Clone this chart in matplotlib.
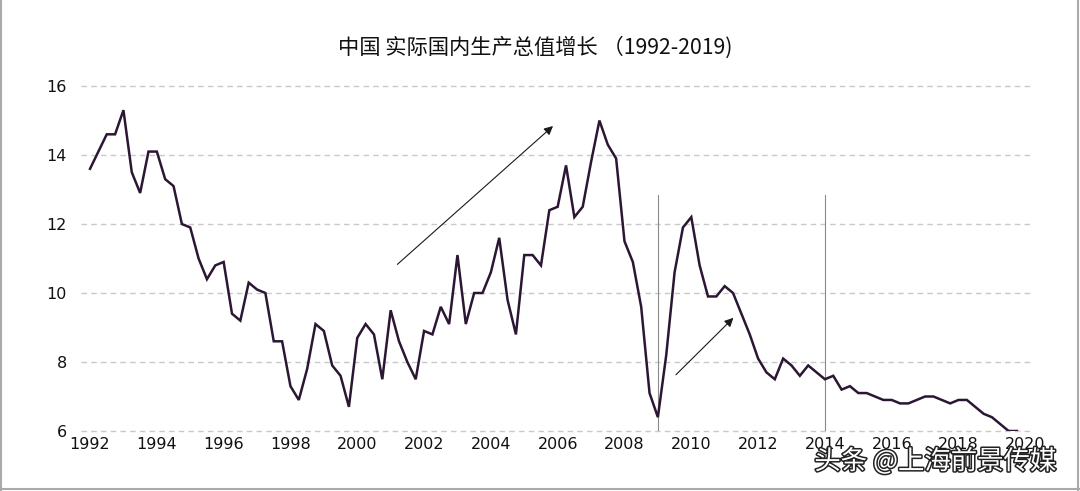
import numpy as np
import matplotlib
matplotlib.use("Agg")
import matplotlib.pyplot as plt
import matplotlib.patheffects as pe
from matplotlib.lines import Line2D

# quarterly real GDP growth (%), 1992Q1 .. 2019Q4
gdp_growth = [
    13.6, 14.1, 14.6, 14.6,   # 1992
    15.3, 13.5, 12.9, 14.1,   # 1993
    14.1, 13.3, 13.1, 12.0,   # 1994
    11.9, 11.0, 10.4, 10.8,   # 1995
    10.9, 9.4, 9.2, 10.3,     # 1996
    10.1, 10.0, 8.6, 8.6,     # 1997
    7.3, 6.9, 7.8, 9.1,       # 1998
    8.9, 7.9, 7.6, 6.7,       # 1999
    8.7, 9.1, 8.8, 7.5,       # 2000
    9.5, 8.6, 8.0, 7.5,       # 2001
    8.9, 8.8, 9.6, 9.1,       # 2002
    11.1, 9.1, 10.0, 10.0,    # 2003
    10.6, 11.6, 9.8, 8.8,     # 2004
    11.1, 11.1, 10.8, 12.4,   # 2005
    12.5, 13.7, 12.2, 12.5,   # 2006
    13.8, 15.0, 14.3, 13.9,   # 2007
    11.5, 10.9, 9.6, 7.1,     # 2008
    6.4, 8.2, 10.6, 11.9,     # 2009
    12.2, 10.8, 9.9, 9.9,     # 2010
    10.2, 10.0, 9.4, 8.8,     # 2011
    8.1, 7.7, 7.5, 8.1,       # 2012
    7.9, 7.6, 7.9, 7.7,       # 2013
    7.5, 7.6, 7.2, 7.3,       # 2014
    7.1, 7.1, 7.0, 6.9,       # 2015
    6.9, 6.8, 6.8, 6.9,       # 2016
    7.0, 7.0, 6.9, 6.8,       # 2017
    6.9, 6.9, 6.7, 6.5,       # 2018
    6.4, 6.2, 6.0, 6.0,       # 2019
]
start_year = 1992

x_ticks = list(range(1992, 2021, 2))
y_ticks = [6, 8, 10, 12, 14, 16]

# marker lines and trend arrows
vlines_x = [2009.0, 2014.0]
vline_top = 12.85
arrows = [((2001.2, 10.83), (2005.86, 14.84)),
          ((2009.54, 7.63), (2011.26, 9.28))]

title = "中国 实际国内生产总值增长 （1992-2019)"
watermark = "头条 @上海前景传媒"

x = start_year + np.arange(len(gdp_growth)) / 4

fig = plt.figure(figsize=(10.8, 4.91), dpi=100)
ax = fig.add_axes([0.0747, 0.1222, 0.879, 0.7026])

ax.plot(x, gdp_growth, color="#2b1633", lw=1.8, solid_joinstyle="miter", zorder=3)

for vx in vlines_x:
    ax.plot([vx, vx], [6, vline_top], color="#8a8a8a", lw=0.8, zorder=2)

for (x0, y0), (x1, y1) in arrows:
    ax.annotate("", xy=(x1, y1), xytext=(x0, y0),
                arrowprops=dict(arrowstyle="-|>", color="#1a1a1a", lw=0.8,
                                mutation_scale=13, shrinkA=0, shrinkB=0))

ax.set_xlim(1991.72, 2020.14)
ax.set_ylim(6, 16)
ax.set_xticks(x_ticks)
ax.set_yticks(y_ticks)
ax.grid(axis="y", color="#c9c9c9", lw=1.0, linestyle=(0, (4, 3)))
ax.set_axisbelow(True)
for gl in ax.get_ygridlines():
    gl.set_clip_on(False)
for s in ax.spines.values():
    s.set_visible(False)
ax.tick_params(axis="both", length=0, labelsize=11.5, labelcolor="#111111")
ax.tick_params(axis="y", pad=10)
ax.tick_params(axis="x", pad=4)

fig.text(0.496, 0.904, title, ha="center", va="center", fontsize=15.3,
         family=["Noto Sans CJK SC", "DejaVu Sans"], color="#111111")

fig.text(0.866, 0.06, watermark, ha="center", va="center", fontsize=19,
         family=["Noto Sans CJK SC", "DejaVu Sans"], color="white",
         path_effects=[pe.withStroke(linewidth=2.2, foreground="#222222")])

# light frame around the picture
for xs, ys in [([0.001, 0.001], [0, 1]), ([0.998, 0.998], [0, 1]), ([0, 1], [0.004, 0.004])]:
    fig.add_artist(Line2D(xs, ys, transform=fig.transFigure, color="#aaaaaa", lw=1.5))

fig.savefig("out.png", dpi=100)
